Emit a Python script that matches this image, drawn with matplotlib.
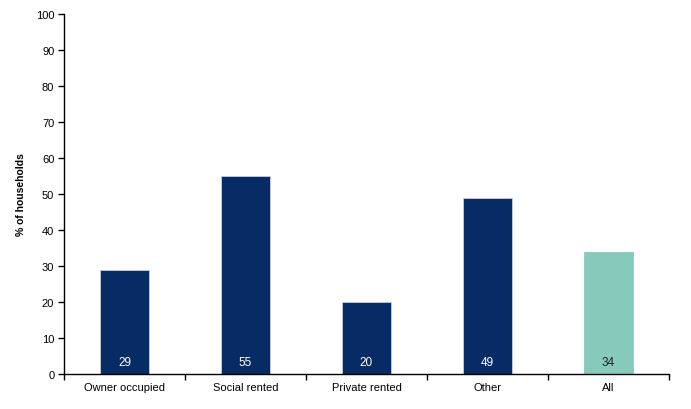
import matplotlib.pyplot as plt
import numpy as np

plt.rcParams['font.family'] = ['Liberation Sans', 'DejaVu Sans']

categories = ['Owner occupied', 'Social rented', 'Private rented', 'Other', 'All']
values = [29, 55, 20, 49, 34]
colors = ['#072c65', '#072c65', '#072c65', '#072c65', '#86cabb']
edge_colors = ['#c8cdd8', '#c8cdd8', '#c8cdd8', '#c8cdd8', '#86cabb']
label_colors = ['white', 'white', 'white', 'white', '#222222']

fig = plt.figure(figsize=(6.91, 4.10), dpi=100)
ax = fig.add_axes([64 / 691, 1 - 375 / 410, 605 / 691, 360 / 410])

x = np.arange(len(categories))
ax.bar(x, values, width=0.4, color=colors, edgecolor=edge_colors, linewidth=0.6)

# value labels near the base of each bar
for xi, v, lc in zip(x, values, label_colors):
    ax.text(xi, 1.8, str(v), ha='center', va='bottom', color=lc, fontsize=8.5)

ax.set_xlim(-0.5, len(categories) - 0.5)
ax.set_ylim(0, 100)
ax.set_yticks(range(0, 101, 10))
ax.set_xticks(np.arange(-0.5, len(categories), 1))
ax.set_xticklabels([])
ax.set_xticks(x, minor=True)
ax.set_xticklabels(categories, minor=True)
ax.tick_params(axis='x', which='minor', length=0, labelsize=8, pad=6)
ax.tick_params(axis='x', which='major', length=4, width=1, direction='out')
ax.tick_params(axis='y', length=4, width=1, direction='out', labelsize=8, pad=3)

ax.spines['top'].set_visible(False)
ax.spines['right'].set_visible(False)
ax.spines['left'].set_linewidth(1)
ax.spines['bottom'].set_linewidth(1)

ax.set_ylabel('% of households', fontsize=7.5, fontweight='bold', labelpad=7)

fig.savefig('out.png', dpi=100)
